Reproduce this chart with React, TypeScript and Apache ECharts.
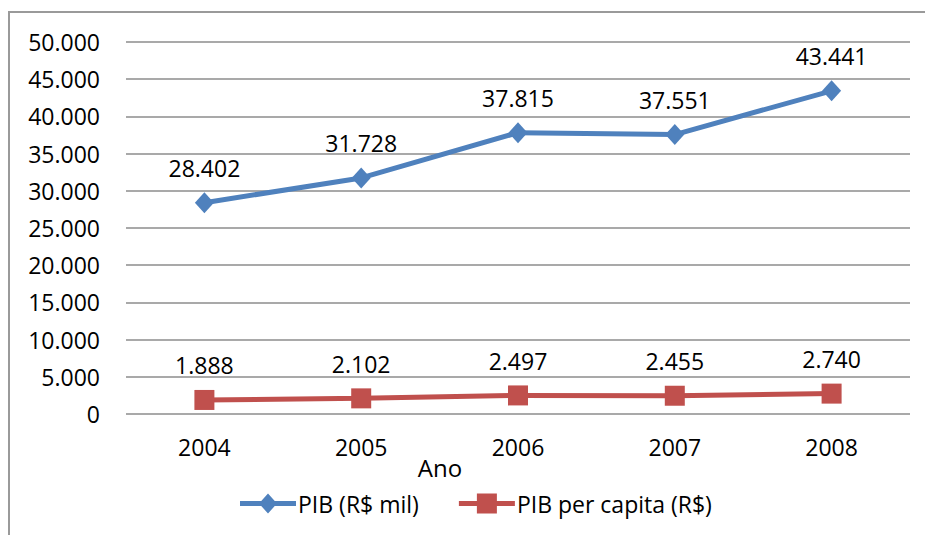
import React, { useEffect, useRef } from "react";
import * as echarts from "echarts";

const categories = ["2004", "2005", "2006", "2007", "2008"];
const pibValues = [28402, 31728, 37815, 37551, 43441];
const pibPerCapitaValues = [1888, 2102, 2497, 2455, 2740];
const seriesNames = ["PIB (R$ mil)", "PIB per capita (R$)"];
const axisName = "Ano";

const fmt = (v: number) => String(Math.round(v)).replace(/\B(?=(\d{3})+(?!\d))/g, ".");

const FONT = "'Open Sans', sans-serif";
const FS = 23;

const ICON_DIAMOND =
  "path://M0 7.5 L56 7.5 L56 12.5 L0 12.5 Z M28 0 L37 10 L28 20 L19 10 Z";
const ICON_SQUARE =
  "path://M0 7.5 L56 7.5 L56 12.5 L0 12.5 Z M18 0 L38 0 L38 20 L18 20 Z";

export default function App() {
  const ref = useRef<HTMLDivElement>(null);
  useEffect(() => {
    if (!ref.current) return;
    const chart = echarts.init(ref.current, null, { renderer: "svg" });
    const labelStyle = {
      show: true,
      position: "top" as const,
      distance: 13,
      fontFamily: FONT,
      fontSize: FS,
      color: "#000",
      formatter: (p: any) => fmt(p.value),
    };
    chart.setOption({
      animation: false,
      backgroundColor: "#fff",
      textStyle: { fontFamily: FONT },
      grid: { left: 126, right: 15, top: 42, bottom: 121, containLabel: false },
      graphic: [
        {
          type: "rect",
          shape: { x: 9, y: 12, width: 1200, height: 1200 },
          style: { fill: "none", stroke: "#9a9a9a", lineWidth: 2 },
          silent: true,
          z: -1,
        },
        {
          type: "text",
          x: 440,
          y: 467,
          style: {
            text: axisName,
            fontFamily: FONT,
            fontSize: 24,
            fill: "#000",
            align: "center",
            verticalAlign: "middle",
          },
        },
      ],
      xAxis: {
        type: "category",
        data: categories,
        boundaryGap: true,
        axisLine: { show: false },
        axisTick: { show: false },
        axisLabel: { fontFamily: FONT, fontSize: FS, color: "#000", margin: 21 },
      },
      yAxis: {
        type: "value",
        min: 0,
        max: 50000,
        interval: 5000,
        axisLine: { show: false },
        axisTick: { show: false },
        axisLabel: {
          fontFamily: FONT,
          fontSize: FS,
          color: "#000",
          margin: 26,
          formatter: (v: number) => fmt(v),
        },
        splitLine: { lineStyle: { color: "#8c8c8c", width: 1.5 } },
      },
      legend: {
        bottom: 20,
        left: 240,
        padding: 0,
        itemWidth: 56,
        itemHeight: 20,
        itemGap: 40,
        textStyle: { fontFamily: FONT, fontSize: FS, color: "#000", padding: [0, 0, 0, -3] },
        data: [
          { name: seriesNames[0], icon: ICON_DIAMOND },
          { name: seriesNames[1], icon: ICON_SQUARE },
        ],
      },
      series: [
        {
          name: seriesNames[0],
          type: "line",
          data: pibValues,
          symbol: "diamond",
          symbolSize: [19, 21],
          color: "#4F81BD",
          lineStyle: { color: "#4F81BD", width: 5 },
          itemStyle: { color: "#4F81BD" },
          label: labelStyle,
        },
        {
          name: seriesNames[1],
          type: "line",
          data: pibPerCapitaValues,
          symbol: "rect",
          symbolSize: 20,
          color: "#C0504D",
          lineStyle: { color: "#C0504D", width: 5 },
          itemStyle: { color: "#C0504D" },
          label: labelStyle,
        },
      ],
    });
    return () => chart.dispose();
  }, []);
  return (
    <div
      ref={ref}
      style={{ position: "fixed", left: 0, top: 0, width: 925, height: 535 }}
    />
  );
}
